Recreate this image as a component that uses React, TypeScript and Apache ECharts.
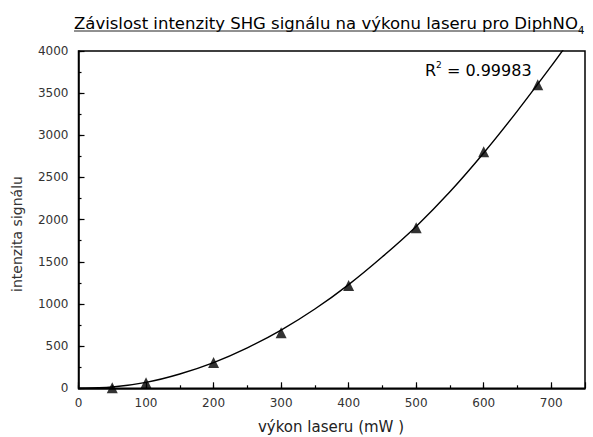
import React, { useEffect, useRef } from "react";
import * as echarts from "echarts";

const measuredPower = [50, 100, 200, 300, 400, 500, 600, 680];
const measuredSignal = [8, 66, 305, 660, 1220, 1905, 2805, 3600];

const fitPower = [0, 50, 100, 150, 200, 250, 300, 350, 400, 450, 500, 550, 600, 650, 700, 720];
const fitSignal = [0, 15, 70, 170, 305, 480, 690, 940, 1230, 1560, 1920, 2330, 2790, 3290, 3820, 4040];

const titleText = "Závislost intenzity SHG signálu na výkonu laseru pro DiphNO";
const titleSub = "4";
const xName = "výkon laseru (mW )";
const yName = "intenzita signálu";
const r2Value = "0.99983";

const FONT = "DejaVu Sans";

export default function App() {
  const ref = useRef<HTMLDivElement>(null);
  useEffect(() => {
    if (!ref.current) return;
    const chart = echarts.init(ref.current, null, { renderer: "svg" });
    const axisLineStyle = { color: "#000", width: 1.5 };
    const option: any = {
      animation: false,
      backgroundColor: "#fff",
      grid: {
        left: 78.5,
        right: 8,
        top: 51,
        bottom: 48.7,
        show: true,
        borderColor: "#000",
        borderWidth: 1.5,
      },
      xAxis: [
        {
          type: "value",
          min: 0,
          max: 750,
          interval: 50,
          axisLine: { show: true, lineStyle: axisLineStyle },
          axisTick: { show: true, inside: true, length: 3, lineStyle: { color: "#000", width: 1.2 } },
          axisLabel: {
            margin: 9,
            fontFamily: FONT,
            fontSize: 12,
            color: "#333",
            showMaxLabel: false,
            formatter: (v: number) => (v % 100 === 0 && v < 750 ? String(v) : ""),
          },
          splitLine: { show: false },
        },
        {
          type: "value",
          position: "bottom",
          min: 0,
          max: 750,
          interval: 100,
          axisLine: { show: false },
          axisTick: { show: true, inside: true, length: 6, lineStyle: { color: "#000", width: 1.2 } },
          axisLabel: { show: false },
          splitLine: { show: false },
        },
      ],
      yAxis: [
        {
          type: "value",
          min: 0,
          max: 4000,
          interval: 250,
          axisLine: { show: true, lineStyle: axisLineStyle },
          axisTick: { show: true, inside: true, length: 3, lineStyle: { color: "#000", width: 1.2 } },
          axisLabel: {
            margin: 10,
            fontFamily: FONT,
            fontSize: 12,
            color: "#333",
            formatter: (v: number) => (v % 500 === 0 ? String(v) : ""),
          },
          splitLine: { show: false },
        },
        {
          type: "value",
          position: "left",
          min: 0,
          max: 4000,
          interval: 500,
          axisLine: { show: false },
          axisTick: { show: true, inside: true, length: 6, lineStyle: { color: "#000", width: 1.2 } },
          axisLabel: { show: false },
          splitLine: { show: false },
        },
      ],
      series: [
        {
          type: "line",
          xAxisIndex: 0,
          yAxisIndex: 0,
          data: fitPower.map((x, i) => [x, fitSignal[i]]),
          smooth: 0.3,
          showSymbol: false,
          symbol: "none",
          clip: true,
          lineStyle: { color: "#000", width: 1.4 },
          silent: true,
        },
        {
          type: "scatter",
          xAxisIndex: 0,
          yAxisIndex: 0,
          data: measuredPower.map((x, i) => [x, measuredSignal[i]]),
          symbol: "triangle",
          symbolSize: 11,
          itemStyle: { color: "#000" },
        },
      ],
      graphic: [
        {
          type: "text",
          x: 74,
          y: 23,
          style: {
            text: "{m|" + titleText + "}{s|" + titleSub + "}",
            verticalAlign: "middle",
            align: "left",
            rich: {
              m: { fontFamily: FONT, fontSize: 16.5, color: "#222" },
              s: { fontFamily: FONT, fontSize: 10, color: "#222", padding: [14, 0, 0, 0] },
            },
          },
        },
        {
          type: "line",
          shape: { x1: 74, y1: 31, x2: 583, y2: 31 },
          style: { stroke: "#222", lineWidth: 1 },
        },
        {
          type: "text",
          x: 425,
          y: 70,
          style: {
            text: "{m|R}{s|2}{m| = " + r2Value + "}",
            verticalAlign: "middle",
            align: "left",
            rich: {
              m: { fontFamily: FONT, fontSize: 16, color: "#222" },
              s: { fontFamily: FONT, fontSize: 9, color: "#222", padding: [0, 0, 10, 0] },
            },
          },
        },
        {
          type: "text",
          x: 331,
          y: 427,
          style: {
            text: xName,
            fontFamily: FONT,
            fontSize: 15,
            fill: "#222",
            align: "center",
            verticalAlign: "middle",
          },
        },
        {
          type: "text",
          x: 17,
          y: 234,
          rotation: Math.PI / 2,
          style: {
            text: yName,
            fontFamily: FONT,
            fontSize: 14,
            fill: "#333",
            align: "center",
            verticalAlign: "middle",
          },
        },
      ],
    };
    chart.setOption(option);
    return () => chart.dispose();
  }, []);
  return (
    <div
      ref={ref}
      style={{ position: "absolute", left: 0, top: 0, width: 593, height: 437, background: "#fff" }}
    />
  );
}
